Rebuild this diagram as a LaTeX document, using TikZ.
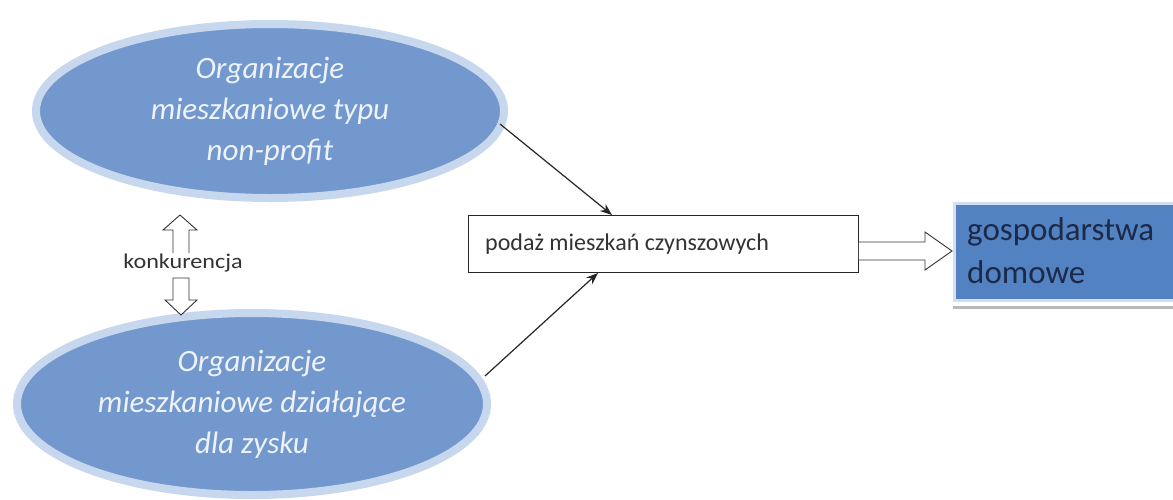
\documentclass[tikz,border=0pt]{standalone}
\usepackage{fontspec}
\setmainfont{Carlito}
\newfontfamily\carfont{Carlito}
\newfontfamily\carwide[FakeStretch=1.15]{Carlito}
\usetikzlibrary{shapes.geometric,arrows.meta}
\definecolor{ellfill}{HTML}{7398CE}
\definecolor{ellrim}{HTML}{C6D7EE}
\definecolor{boxblue}{HTML}{5282C2}
\definecolor{boxrim}{HTML}{D3E0F2}
\definecolor{navy}{HTML}{1C2A48}
\definecolor{elltext}{HTML}{EEF3FA}
\tikzset{
  orgell/.style={ellipse, fill=ellfill, draw=ellrim, line width=8pt, inner sep=0pt,
    text=elltext, align=center, font=\carfont\itshape\fontsize{31}{41}\selectfont},
  hollow/.style={draw=black!80, fill=white, line width=0.9pt, line join=miter},
  conn/.style={draw=black!85, line width=1.2pt, -{Stealth[length=12pt,width=9pt]}},
}
\begin{document}
\begin{tikzpicture}[x=1pt,y=-1pt]
\path[use as bounding box, fill=white] (0,0) rectangle (1173,499);
% ellipses
\node[orgell, minimum width=468pt, minimum height=174pt] (e1) at (270,111)
  {Organizacje\\mieszkaniowe typu\\non-profit};
\node[orgell, minimum width=470pt, minimum height=182pt] (e2) at (252,404)
  {Organizacje\\mieszkaniowe działające\\dla zysku};
% central box
\node[draw=black!85, line width=0.9pt, fill=white, minimum width=390pt, minimum height=57pt,
  anchor=north west, inner sep=0pt] (sup) at (468,215) {};
\node[anchor=base west, font=\carfont\fontsize{24}{26}\selectfont, text=black!80, inner sep=0pt]
  (suptext) at (485,250) {podaż mieszkań\ czynszowych};
% households box
\fill[gray!55] (953,306) rectangle (1173,309);
\node[fill=boxblue, draw=boxrim, line width=2.5pt, minimum width=222pt, minimum height=97pt,
  anchor=north west, inner sep=0pt] (hh) at (953,202) {};
\node[anchor=base west, text=navy, font=\carfont\fontsize{33}{40}\selectfont, inner sep=0pt]
  (hhtext1) at (967,240) {gospodarstwa};
\node[anchor=base west, text=navy, font=\carfont\fontsize{33}{40}\selectfont, inner sep=0pt]
  (hhtext2) at (967,283) {domowe};
% connectors
\coordinate (s1) at (500,124);
\coordinate (s2) at (485,376);
\draw[conn] (s1) -- (sup.north -| 612,0);
\draw[conn] (s2) -- (sup.south -| 598,0);
% big hollow arrow
\draw[hollow] (sup.east |- 0,242) -- (925,242) -- (925,232) -- (952,251) -- (925,270) -- (925,260) -- (sup.east |- 0,260);
% competition arrows
\node[anchor=base, font=\carwide\fontsize{21}{22}\selectfont, text=black!80, inner sep=0pt] (konk) at (183,268) {konkurencja};
\draw[hollow] (173,253) -- (173,230) -- (163,230) -- (180,215) -- (197,230) -- (189,230) -- (189,253);
\draw[hollow] (173,278) -- (173,300) -- (165,300) -- (181,315) -- (197,300) -- (189,300) -- (189,278) -- cycle;
\end{tikzpicture}
\end{document}
